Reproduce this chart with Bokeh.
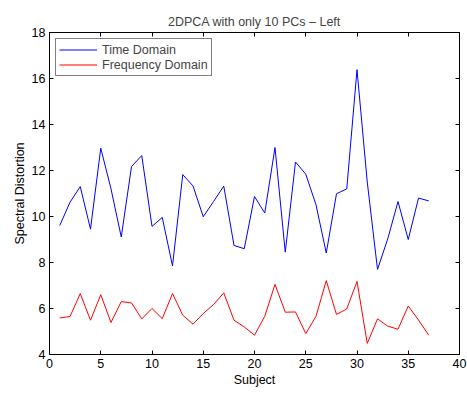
from bokeh.plotting import figure
from bokeh.models import LinearAxis, Range1d, FixedTicker, Legend, LegendItem
from bokeh.embed import file_html
from bokeh.resources import INLINE

subjects = list(range(1, 38))
time_domain = [9.61, 10.62, 11.30, 9.45, 12.97, 11.20, 9.11, 12.17, 12.65, 9.57,
               9.96, 7.85, 11.82, 11.33, 9.99, 10.65, 11.32, 8.74, 8.60, 10.87,
               10.15, 13.00, 8.45, 12.37, 11.84, 10.51, 8.41, 10.99, 11.20, 16.38,
               11.50, 7.70, 9.03, 10.65, 9.00, 10.80, 10.68]
freq_domain = [5.59, 5.65, 6.65, 5.49, 6.60, 5.39, 6.30, 6.24, 5.55, 6.00,
               5.56, 6.65, 5.71, 5.32, 5.78, 6.17, 6.68, 5.49, 5.20, 4.84,
               5.66, 7.05, 5.84, 5.85, 4.91, 5.66, 7.21, 5.74, 5.98, 7.18,
               4.48, 5.55, 5.23, 5.10, 6.11, 5.50, 4.84]
x_ticks = [0, 5, 10, 15, 20, 25, 30, 35, 40]
y_ticks = [4, 6, 8, 10, 12, 14, 16, 18]

FONT = "Liberation Sans"
FS = "12.5px"

p = figure(width=467, height=393, output_backend="svg", toolbar_location=None,
           x_range=Range1d(0, 40), y_range=Range1d(4, 18),
           min_border_left=49, min_border_right=8, min_border_top=32, min_border_bottom=39,
           x_axis_label="Subject", y_axis_label="Spectral Distortion")
p.title.text = "2DPCA with only 10 PCs \u2013 Left"
p.title.align = "center"
p.title.text_font = FONT
p.title.text_font_size = FS
p.title.text_font_style = "normal"
p.title.offset = 0
p.title.standoff = 7

p.grid.visible = False
p.outline_line_color = "black"
p.outline_line_width = 1
p.background_fill_color = "white"
p.border_fill_color = "white"

for ax in p.xaxis:
    ax.ticker = FixedTicker(ticks=x_ticks)
for ax in p.yaxis:
    ax.ticker = FixedTicker(ticks=y_ticks)

for ax in list(p.xaxis) + list(p.yaxis):
    ax.major_tick_in = 4
    ax.major_tick_out = 0
    ax.minor_tick_in = 0
    ax.minor_tick_out = 0
    ax.axis_line_color = "black"
    ax.major_tick_line_color = "black"
    ax.major_label_text_font = FONT
    ax.major_label_text_font_size = FS
    ax.major_label_text_color = "black"
    ax.axis_label_text_font = FONT
    ax.axis_label_text_font_size = FS
    ax.axis_label_text_font_style = "normal"
    ax.axis_label_text_color = "black"
    ax.major_label_standoff = 4
    ax.axis_label_standoff = 2

top = LinearAxis(ticker=FixedTicker(ticks=x_ticks),
                 major_label_overrides={t: "" for t in x_ticks},
                 major_tick_in=4, major_tick_out=0, minor_tick_in=0, minor_tick_out=0,
                 major_label_standoff=0)
right = LinearAxis(ticker=FixedTicker(ticks=y_ticks),
                   major_label_overrides={t: "" for t in y_ticks},
                   major_tick_in=4, major_tick_out=0, minor_tick_in=0, minor_tick_out=0,
                   major_label_standoff=0)
p.add_layout(top, "above")
p.add_layout(right, "right")

r1 = p.line(subjects, time_domain, line_color="#0000ff", line_width=1)
r2 = p.line(subjects, freq_domain, line_color="#ff0000", line_width=1)

legend = Legend(items=[LegendItem(label="Time Domain", renderers=[r1]),
                       LegendItem(label="Frequency Domain", renderers=[r2])],
                location="top_left")
legend.label_text_font = FONT
legend.label_text_font_size = FS
legend.border_line_color = "black"
legend.border_line_width = 1.2
legend.margin = 6
legend.padding = 3
legend.spacing = 0
legend.glyph_width = 38
legend.glyph_height = 15
legend.label_height = 15
legend.label_standoff = 5
legend.background_fill_alpha = 1
p.add_layout(legend)

open("out.html", "w").write(file_html(p, INLINE))
